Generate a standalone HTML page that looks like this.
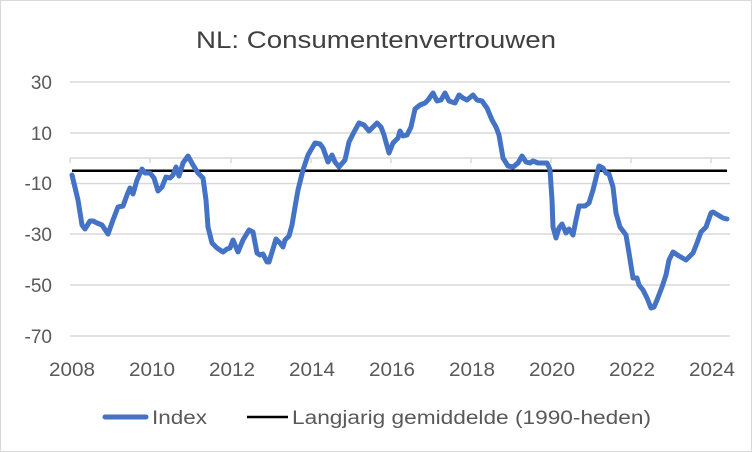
<!DOCTYPE html>
<html><head><meta charset="utf-8"><style>
html,body{margin:0;padding:0;background:#fff;}
svg{display:block;font-family:"Liberation Sans",sans-serif;}
</style></head><body>
<svg width="752" height="452" viewBox="0 0 752 452" xmlns="http://www.w3.org/2000/svg">
<rect x="0.5" y="0.5" width="751" height="451" fill="#fff" stroke="#d9d9d9"/>
<text x="376" y="48" font-size="24" fill="#404040" text-anchor="middle" textLength="360" lengthAdjust="spacingAndGlyphs">NL: Consumentenvertrouwen</text>
<g stroke="#d9d9d9" stroke-width="1.5">
<line x1="70" x2="730" y1="82" y2="82"/>
<line x1="70" x2="730" y1="133" y2="133"/>
<line x1="70" x2="730" y1="183.5" y2="183.5"/>
<line x1="70" x2="730" y1="234" y2="234"/>
<line x1="70" x2="730" y1="285" y2="285"/>
<line x1="70" x2="730" y1="336" y2="336"/>
<line x1="70" x2="730" y1="158" y2="158"/>
<line x1="70" x2="70" y1="158" y2="163"/><line x1="150" x2="150" y1="158" y2="163"/><line x1="231" x2="231" y1="158" y2="163"/><line x1="311" x2="311" y1="158" y2="163"/><line x1="391" x2="391" y1="158" y2="163"/><line x1="471" x2="471" y1="158" y2="163"/><line x1="551" x2="551" y1="158" y2="163"/><line x1="631" x2="631" y1="158" y2="163"/><line x1="711" x2="711" y1="158" y2="163"/>
</g>
<g font-size="19" fill="#595959" text-anchor="end">
<text x="52" y="89">30</text><text x="52" y="140">10</text><text x="52" y="190">-10</text><text x="52" y="241">-30</text><text x="52" y="292">-50</text><text x="52" y="343">-70</text>
</g>
<g font-size="19" fill="#595959" text-anchor="middle">
<text x="72" y="376" textLength="46" lengthAdjust="spacingAndGlyphs">2008</text>
<text x="152" y="376" textLength="46" lengthAdjust="spacingAndGlyphs">2010</text>
<text x="232" y="376" textLength="46" lengthAdjust="spacingAndGlyphs">2012</text>
<text x="312" y="376" textLength="46" lengthAdjust="spacingAndGlyphs">2014</text>
<text x="392" y="376" textLength="46" lengthAdjust="spacingAndGlyphs">2016</text>
<text x="472" y="376" textLength="46" lengthAdjust="spacingAndGlyphs">2018</text>
<text x="552" y="376" textLength="46" lengthAdjust="spacingAndGlyphs">2020</text>
<text x="632" y="376" textLength="46" lengthAdjust="spacingAndGlyphs">2022</text>
<text x="712" y="376" textLength="46" lengthAdjust="spacingAndGlyphs">2024</text>
</g>
<line x1="72" x2="727" y1="170.7" y2="170.7" stroke="#000" stroke-width="2.5"/>
<polyline fill="none" stroke="#4472c4" stroke-width="5" stroke-linejoin="round" stroke-linecap="round" points="72,175 78,200 82,225 85,229 90,221 93,221 97,223 102,225 108,234 113,220 118,207 123,206 127,195 130,188 133,194 137,180 142,169 145,173 150,173 154,178 158,191 162,187 166,177 170,178 173,175 176,167 179,176 183,163 188,156 193,165 198,173 203,178 206,200 208,227 212,243 217,248 223,252 227,249 230,248 233,240 238,252 243,240 249,230 253,232 257,253 260,255 263,254 267,262 269,262 276,239 280,243 283,247 285,240 289,236 292,225 295,207 298,190 303,170 308,155 315,143 320,144 323,148 328,162 332,155 335,162 339,167 345,160 349,142 354,132 359,123 364,125 369,131 373,127 377,123 381,127 384,135 389,153 393,143 398,138 400,131 403,136 407,135 411,127 415,109 420,105 425,103 428,100 433,93 437,101 441,100 445,93 449,101 455,103 459,95 463,98 467,100 473,95 477,100 482,101 487,108 492,120 496,127 499,135 503,158 508,166 513,167 518,163 522,156 526,162 530,163 533,161 538,163 547,163 549,167 550,170 552,200 553,227 556,238 559,228 562,224 566,233 569,229 573,235 576,220 579,206 585,206 589,203 593,190 596,178 599,166 603,168 606,173 609,174 613,187 616,213 620,227 626,235 629,253 633,278 637,278 639,285 643,290 647,298 651,308 654,307 657,300 662,287 666,275 669,260 673,252 679,256 686,260 693,253 697,243 701,232 706,227 711,213 713,212 723,218 727,219"/>
<line x1="105" x2="146" y1="417" y2="417" stroke="#4472c4" stroke-width="5" stroke-linecap="round"/>
<text x="152" y="424" font-size="19" fill="#595959" textLength="55" lengthAdjust="spacingAndGlyphs">Index</text>
<line x1="247" x2="288" y1="417" y2="417" stroke="#000" stroke-width="2.5"/>
<text x="292" y="424" font-size="19" fill="#595959" textLength="359" lengthAdjust="spacingAndGlyphs">Langjarig gemiddelde (1990-heden)</text>
</svg>
</body></html>
